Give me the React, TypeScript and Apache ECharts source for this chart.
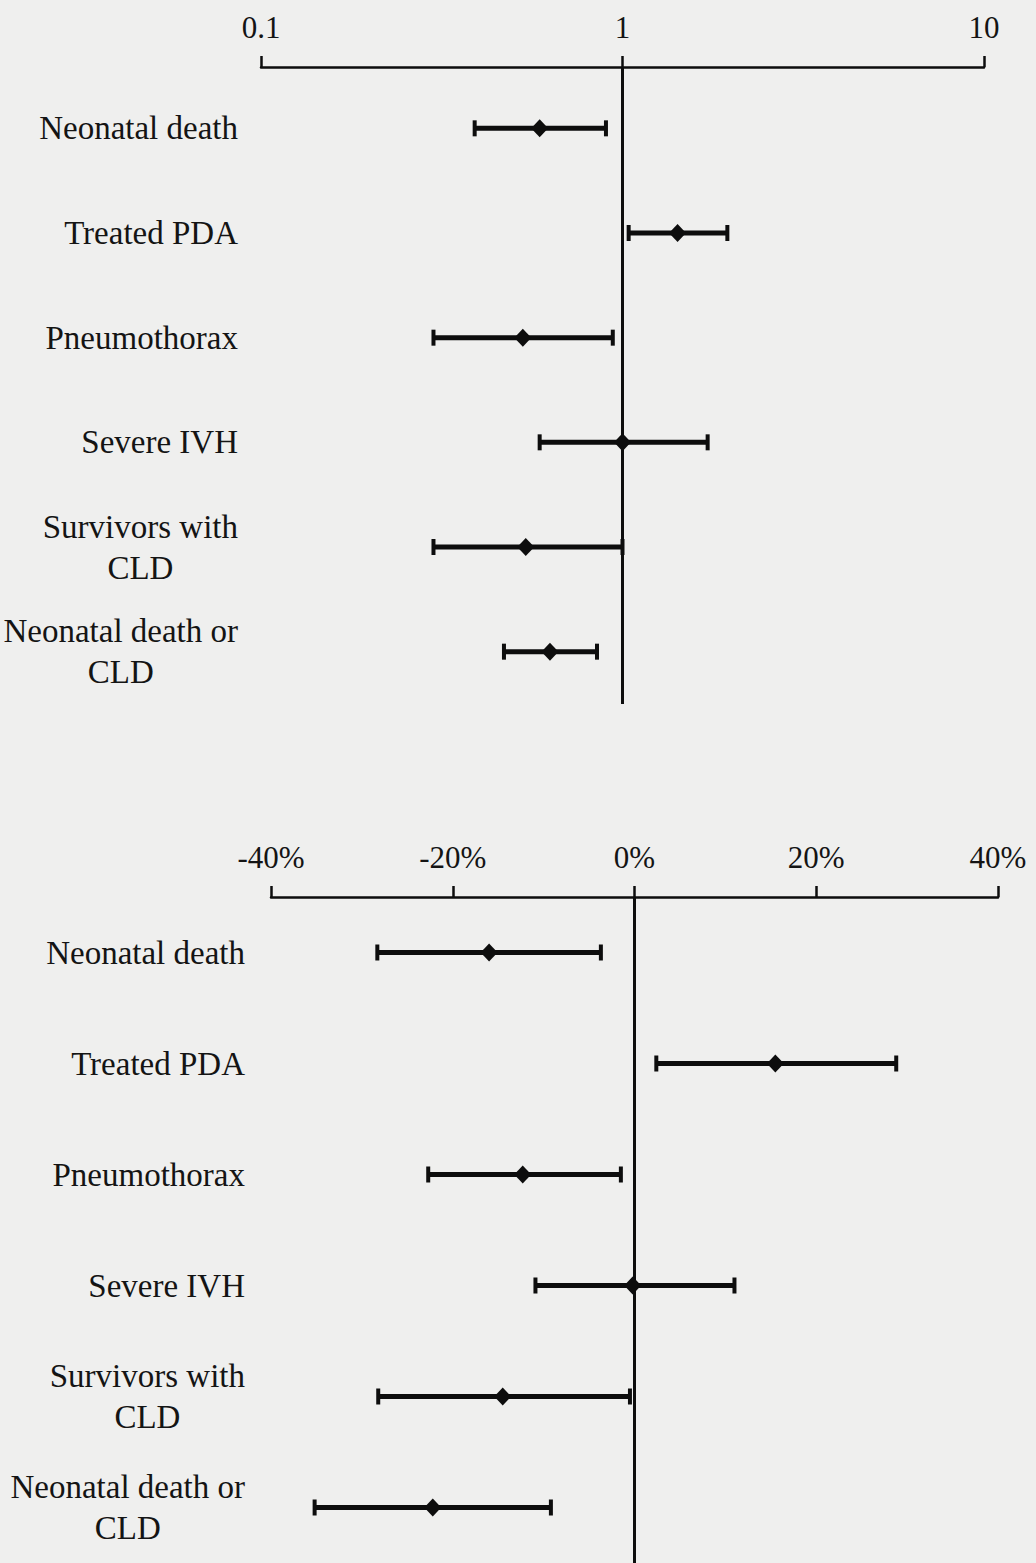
import React, { useEffect, useRef } from "react";
import * as echarts from "echarts";

// Outcomes, listed top to bottom in both panels
const categories = [
  "Neonatal death",
  "Treated PDA",
  "Pneumothorax",
  "Severe IVH",
  "Survivors with\nCLD",
  "Neonatal death or\nCLD",
];

// Upper panel: odds ratios with 95% confidence limits (log scale)
const orPoint = [0.59, 1.42, 0.53, 1.0, 0.54, 0.63];
const orLow = [0.39, 1.04, 0.3, 0.59, 0.3, 0.47];
const orHigh = [0.9, 1.95, 0.94, 1.72, 1.0, 0.85];
const orTicks = [0.1, 1, 10];

// Lower panel: risk differences (%) with 95% confidence limits
const rdPoint = [-16.0, 15.5, -12.3, -0.2, -14.5, -22.2];
const rdLow = [-28.3, 2.4, -22.7, -10.9, -28.2, -35.2];
const rdHigh = [-3.7, 28.8, -1.5, 11.0, -0.5, -9.2];
const rdTicks = [-40, -20, 0, 20, 40];

const FONT = "'Liberation Serif', 'Times New Roman', serif";
const INK = "#0d0d0d";
const TEXT = "#141414";

function catLabel(v: string) {
  const lines = v.split("\n");
  if (lines.length === 1) return v;
  return lines.map((l) => `{c|${l}}`).join("\n");
}

function errorBars(xAxisIndex: number, yAxisIndex: number, lo: number[], hi: number[]) {
  return {
    type: "custom",
    xAxisIndex,
    yAxisIndex,
    clip: false,
    z: 2,
    encode: { x: [0, 1], y: 2 },
    data: lo.map((l, i) => [l, hi[i], i]),
    renderItem: (_params: any, api: any) => {
      const a = api.coord([api.value(0), api.value(2)]);
      const b = api.coord([api.value(1), api.value(2)]);
      const cap = 8;
      const style = { stroke: INK, lineWidth: 5 };
      const capStyle = { stroke: INK, lineWidth: 4 };
      return {
        type: "group",
        children: [
          { type: "line", shape: { x1: a[0], y1: a[1], x2: b[0], y2: b[1] }, style },
          { type: "line", shape: { x1: a[0], y1: a[1] - cap, x2: a[0], y2: a[1] + cap }, style: capStyle },
          { type: "line", shape: { x1: b[0], y1: b[1] - cap, x2: b[0], y2: b[1] + cap }, style: capStyle },
        ],
      };
    },
  };
}

function refLine(xAxisIndex: number, yAxisIndex: number, value: number, axisOffset: number) {
  return {
    type: "custom",
    xAxisIndex,
    yAxisIndex,
    clip: false,
    z: 1,
    data: [[value, 0]],
    encode: { x: 0, y: 1 },
    renderItem: (params: any, api: any) => {
      const p = api.coord([api.value(0), api.value(1)]);
      const cs = params.coordSys;
      return {
        type: "line",
        shape: { x1: p[0], y1: cs.y - axisOffset, x2: p[0], y2: cs.y + cs.height },
        style: { stroke: INK, lineWidth: 3 },
      };
    },
  };
}

function points(xAxisIndex: number, yAxisIndex: number, vals: number[]) {
  return {
    type: "scatter",
    xAxisIndex,
    yAxisIndex,
    symbol: "diamond",
    symbolSize: [17, 18],
    itemStyle: { color: INK, opacity: 1 },
    z: 3,
    data: vals.map((v, i) => [v, i]),
  };
}

const xAxisCommon = {
  position: "top",
  axisLine: { show: true, lineStyle: { color: INK, width: 2.5 } },
  axisTick: { show: true, inside: false, length: 11, lineStyle: { color: INK, width: 2.5 } },
  splitLine: { show: false },
  minorTick: { show: false },
  axisLabel: { color: TEXT, fontFamily: FONT, fontSize: 31, margin: 24 },
};

function yAxisFor(margin: number) {
  return {
    type: "category",
    inverse: true,
    data: categories,
    axisLine: { show: false },
    axisTick: { show: false },
    splitLine: { show: false },
    axisLabel: {
      color: TEXT,
      fontFamily: FONT,
      fontSize: 33,
      lineHeight: 41,
      margin,
      formatter: catLabel,
      rich: {
        c: { align: "center", color: TEXT, fontFamily: FONT, fontSize: 33, lineHeight: 41 },
      },
    },
  };
}

export default function App() {
  const ref = useRef<HTMLDivElement>(null);

  useEffect(() => {
    document.body.style.margin = "0";
    if (!ref.current) return;
    const chart = echarts.init(ref.current, undefined, { renderer: "svg" });
    const topOffset = 9;
    chart.setOption({
      animation: false,
      backgroundColor: "#efefee",
      grid: [
        { left: 261, right: 52, top: 76, height: 628 },
        { left: 271, right: 38, top: 897, height: 670 },
      ],
      xAxis: [
        {
          ...xAxisCommon,
          gridIndex: 0,
          type: "log",
          logBase: 10,
          min: orTicks[0],
          max: orTicks[orTicks.length - 1],
          offset: topOffset,
          axisLabel: {
            ...xAxisCommon.axisLabel,
            formatter: (v: number) => String(v),
          },
        },
        {
          ...xAxisCommon,
          gridIndex: 1,
          type: "value",
          min: rdTicks[0],
          max: rdTicks[rdTicks.length - 1],
          interval: rdTicks[1] - rdTicks[0],
          axisLabel: {
            ...xAxisCommon.axisLabel,
            formatter: (v: number) => `${v}%`,
          },
        },
      ],
      yAxis: [
        { ...yAxisFor(23), gridIndex: 0 },
        { ...yAxisFor(26), gridIndex: 1 },
      ],
      series: [
        refLine(0, 0, 1, topOffset),
        errorBars(0, 0, orLow, orHigh),
        points(0, 0, orPoint),
        refLine(1, 1, 0, 0),
        errorBars(1, 1, rdLow, rdHigh),
        points(1, 1, rdPoint),
      ],
    });
    return () => chart.dispose();
  }, []);

  return <div ref={ref} style={{ width: 1036, height: 1563 }} />;
}
